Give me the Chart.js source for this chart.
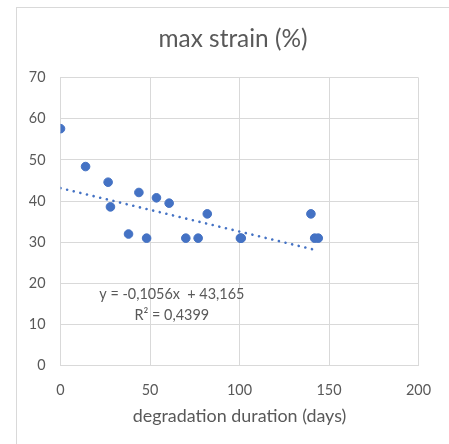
<!DOCTYPE html>
<html lang="en">
<head>
    <meta charset="UTF-8">
    <title>max strain</title>
    <script src="https://cdn.jsdelivr.net/npm/chart.js"></script>
    <style>
        html, body {
            margin: 0;
            padding: 0;
            background: #fff;
        }
        #wrap {
            width: 449px;
            height: 444px;
        }
    </style>
</head>
<body>
<div id="wrap"><canvas id="strainChart"></canvas></div>

<script>
    // degradation duration (days) and max strain (%)
    const days = [0, 14, 26.6, 27.9, 38, 43.8, 48.1, 53.6, 60.7, 70, 76.9, 82, 100.5, 101, 139.9, 142, 144];
    const strain = [57.6, 48.4, 44.6, 38.6, 32, 42.1, 31, 40.8, 39.5, 31, 31, 36.9, 31, 31, 36.9, 31, 31];

    // linear trendline as reported on the chart
    const slope = -0.1056;
    const intercept = 43.165;
    const trendX = [0, 143];
    const trendLabel = ['y = -0,1056x  + 43,165', 'R² = 0,4399'];

    const TEXT = '#595959';
    const GRID = '#d9d9d9';
    const BLUE = '#4472c4';

    const frame = {
        id: 'frame',
        beforeDraw(chart) {
            const ctx = chart.ctx;
            ctx.save();
            ctx.fillStyle = '#fff';
            ctx.fillRect(0, 0, chart.width, chart.height);
            ctx.strokeStyle = GRID;
            ctx.lineWidth = 1;
            ctx.strokeRect(16.5, 7.5, 600, 600);
            ctx.restore();
        },
        afterDatasetsDraw(chart) {
            const ctx = chart.ctx;
            const xs = chart.scales.x, ys = chart.scales.y;
            ctx.save();
            ctx.fillStyle = TEXT;
            ctx.font = '14.4px Lato';
            ctx.textAlign = 'center';
            ctx.textBaseline = 'middle';
            ctx.fillText(trendLabel[0], xs.getPixelForValue(62.2), ys.getPixelForValue(17.4));
            ctx.fillText(trendLabel[1], xs.getPixelForValue(62.2), ys.getPixelForValue(12.25));
            ctx.restore();
        }
    };

    new Chart(document.getElementById('strainChart'), {
        type: 'scatter',
        data: {
            datasets: [{
                label: 'max strain (%)',
                data: days.map((d, i) => ({x: d, y: strain[i]})),
                backgroundColor: BLUE,
                borderColor: BLUE,
                pointRadius: 4.3,
                pointHoverRadius: 4.3,
                order: 1
            }, {
                label: 'trend',
                type: 'line',
                data: trendX.map(x => ({x: x, y: slope * x + intercept})),
                borderColor: BLUE,
                borderWidth: 2.6,
                borderDash: [0.01, 6.8],
                borderCapStyle: 'round',
                pointRadius: 0,
                fill: false,
                order: 2
            }]
        },
        options: {
            responsive: true,
            maintainAspectRatio: false,
            animation: false,
            events: [],
            layout: {
                padding: {left: 17, right: 0, top: 0, bottom: 0}
            },
            plugins: {
                legend: {display: false},
                tooltip: {enabled: false},
                title: {
                    display: true,
                    text: 'max strain (%)',
                    color: TEXT,
                    font: {family: 'Lato', size: 24.4, weight: 'normal', lineHeight: 1.2},
                    padding: {top: 24.4, bottom: 24}
                }
            },
            scales: {
                x: {
                    type: 'linear',
                    min: 0,
                    max: 200,
                    ticks: {
                        stepSize: 50,
                        color: TEXT,
                        font: {family: 'Lato', size: 14.4},
                        padding: 16
                    },
                    grid: {color: GRID, drawTicks: false},
                    border: {color: GRID},
                    title: {
                        display: true,
                        text: 'degradation duration (days)',
                        color: TEXT,
                        font: {family: 'Lato', size: 17.9},
                        padding: {top: 8, bottom: 17.3}
                    },
                    afterFit(scale) { scale.height = 444 - 365.7; }
                },
                y: {
                    min: 0,
                    max: 70,
                    ticks: {
                        stepSize: 10,
                        color: TEXT,
                        font: {family: 'Lato', size: 14.4},
                        padding: 15
                    },
                    grid: {color: GRID, drawTicks: false},
                    border: {color: GRID},
                    afterFit(scale) { scale.width = 60.5 - 17; }
                },
                // invisible spacer so the plot ends at 200 days where the reference does
                spacer: {
                    position: 'right',
                    display: true,
                    ticks: {display: false},
                    grid: {display: false, drawTicks: false},
                    border: {display: false},
                    afterFit(scale) { scale.width = 449 - 418.5; }
                }
            }
        },
        plugins: [frame]
    });
</script>
</body>
</html>
